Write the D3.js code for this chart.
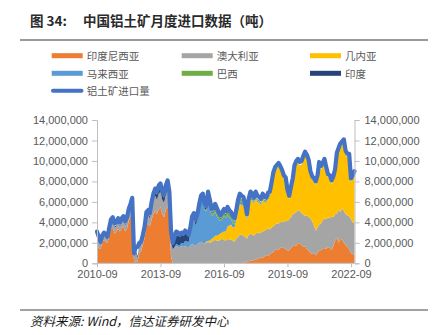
<!DOCTYPE html>
<html><head><meta charset="utf-8">
<script src="https://cdn.jsdelivr.net/npm/d3@7"></script>
<style>
html,body{margin:0;padding:0;background:#fff;}
svg{display:block;}
</style></head>
<body>
<svg id="c" width="439" height="335"></svg>
<script>
// Units: million tonnes, monthly, 2010-09 .. 2022-11
const UNIT = 1e6;
const startMonth = new Date(2010, 8, 1);
const endMonth = new Date(2022, 10, 1);
const tickLabels = ["2010-09","2013-09","2016-09","2019-09","2022-09"];
const yTicks = [0,2,4,6,8,10,12,14];

const seriesNames = ["印度尼西亚","澳大利亚","几内亚","马来西亚","巴西","印度"];
const totalName = "铝土矿进口量";

const total = [
3.1,2.6,2.1,2.7,3.0,2.8,2.6,3.5,4.3,4.5,
3.9,4.0,4.4,4.0,4.4,4.6,4.1,4.5,5.3,5.8,
6.4,1.0,1.6,1.6,2.0,2.1,2.8,3.6,5.0,5.2,
4.9,6.0,6.8,7.3,7.0,7.6,7.8,7.0,6.7,7.6,
8.1,7.0,3.2,2.0,2.6,3.1,3.0,2.8,3.0,2.9,
3.2,3.0,2.8,3.6,4.6,4.9,4.3,4.8,5.8,6.6,
6.8,5.8,5.6,7.0,6.2,5.3,5.4,5.8,5.4,5.0,
4.7,5.0,5.3,5.1,5.5,5.2,5.0,4.6,4.4,5.2,
6.2,6.8,6.6,6.5,5.8,4.8,6.3,7.0,6.8,6.4,
7.0,6.6,6.5,6.3,6.8,6.5,6.4,6.9,7.0,7.9,
8.9,9.4,9.6,9.8,9.5,9.1,8.6,8.4,7.2,6.6,
7.5,8.3,9.6,10.0,10.2,9.9,10.0,10.5,10.9,10.6,
10.1,9.0,8.5,8.3,8.0,8.6,9.9,9.5,9.8,10.2,
9.4,8.7,8.6,8.1,8.5,9.2,10.8,11.3,11.7,11.9,
12.1,11.0,10.7,10.7,8.3,8.6,9.0];

const indonesia = [
1.7,1.5,1.4,2.0,2.3,2.1,2.0,2.7,3.3,3.5,
2.9,3.1,3.4,3.1,3.4,3.6,3.1,3.4,4.1,4.6,
4.9,0.1,0.2,0.2,1.0,1.2,1.8,2.5,3.7,3.9,
3.6,4.3,4.8,5.1,4.8,5.3,5.5,4.8,4.5,5.2,
5.6,4.5,0.7,0,0,0,0,0,0,0,
0,0,0,0,0,0,0,0,0,0,
0,0,0,0,0,0,0,0,0,0,
0,0,0,0,0,0,0,0,0,0,
0,0,0,0.05,0.1,0.15,0.2,0.25,0.3,0.3,
0.4,0.4,0.5,0.6,0.5,0.7,0.8,0.7,0.9,1.0,
1.1,1.3,1.4,1.3,1.5,1.6,1.5,1.4,1.2,1.3,
1.5,1.7,1.8,1.7,2.0,1.9,1.8,1.6,1.7,1.4,
1.2,1.0,0.9,1.0,0.8,1.0,1.2,1.3,1.4,1.5,
1.4,1.6,1.5,1.3,1.7,2.2,2.5,2.0,2.4,2.3,
2.0,1.8,1.6,1.4,1.0,0.9,0.8];

const australia = [
0.9,0.7,0.4,0.4,0.4,0.4,0.3,0.5,0.6,0.6,
0.6,0.5,0.6,0.5,0.6,0.6,0.6,0.7,0.7,0.7,
0.8,0.5,0.9,0.3,0.6,0.6,0.6,0.7,0.8,0.8,
0.8,1.0,1.4,1.5,1.4,1.5,1.5,1.4,1.4,1.5,
1.6,1.5,1.4,1.3,1.5,1.7,1.6,1.6,1.7,1.6,
1.7,1.6,1.6,1.8,1.9,1.8,1.7,1.9,2.0,2.1,
2.0,1.9,2.0,2.1,2.0,2.1,2.2,2.3,2.2,2.2,
2.3,2.4,2.3,2.2,2.4,2.3,2.3,2.2,2.1,2.4,
2.6,2.8,2.8,2.65,2.5,2.25,2.6,2.65,2.5,2.4,
2.5,2.6,2.4,2.4,2.6,2.5,2.5,2.7,2.4,2.5,
2.5,2.5,2.5,2.6,2.5,2.5,2.5,2.8,2.9,3.0,
3.0,3.1,3.1,3.3,3.2,3.2,3.1,3.2,2.9,3.3,
3.3,3.4,3.2,2.7,2.4,2.5,2.6,2.6,2.8,2.9,
2.9,2.9,2.9,3.3,2.8,2.6,2.4,3.2,2.6,3.1,
3.1,3.0,3.1,3.2,3.3,3.1,3.1];

const guinea = [
0,0,0,0,0,0,0,0,0,0,
0,0,0,0,0,0,0,0,0,0,
0,0,0,0,0,0,0,0,0,0,
0,0,0,0,0,0,0,0,0,0,
0,0,0,0,0,0,0,0,0,0,
0,0,0,0,0,0,0,0,0,0,
0,0,0.1,0.1,0.2,0.3,0.3,0.4,0.5,0.6,
0.6,0.6,0.8,0.9,1.2,1.4,1.5,1.3,1.4,1.8,
2.5,3.0,2.9,3.0,2.4,1.8,2.7,3.3,3.3,3.1,
3.5,3.0,3.0,2.7,3.1,2.8,2.6,3.0,3.2,3.9,
4.9,5.2,5.3,5.5,5.1,4.6,4.2,3.8,2.7,1.9,
2.6,3.1,4.3,4.6,4.6,4.4,4.7,5.3,5.9,5.5,
5.2,4.2,4.0,4.2,4.4,4.7,5.7,5.2,5.2,5.4,
4.7,3.8,3.8,3.1,3.6,4.0,5.5,5.7,6.3,6.1,
6.6,5.8,5.6,5.7,3.6,4.2,4.7];

const malaysia = [
0,0,0,0,0,0,0,0,0,0,
0,0,0,0,0,0,0,0,0,0,
0,0,0,0,0,0,0,0,0,0,
0,0,0,0,0,0,0,0,0,0,
0,0,0,0.05,0.1,0.2,0.2,0.2,0.3,0.3,
0.5,0.5,0.5,1.2,2.1,2.5,2.0,2.3,3.2,3.8,
4.1,3.3,3.0,4.1,3.2,2.3,2.2,2.3,1.9,1.5,
1.2,1.3,1.5,1.3,1.1,0.8,0.5,0.4,0.3,0.4,
0.4,0.3,0.3,0.2,0.2,0.15,0.2,0.2,0.15,0.1,
0.1,0.1,0.1,0.1,0.1,0.05,0.05,0.05,0.05,0.05,
0,0,0,0,0,0,0,0,0,0,
0,0,0,0,0,0,0,0,0,0,
0,0,0,0,0,0,0,0,0,0,
0,0,0,0,0,0,0,0,0,0,
0,0,0,0,0,0,0];

const brazil = [
0,0,0,0,0,0,0,0,0,0,
0,0,0,0,0,0,0,0,0,0,
0,0,0,0,0,0,0,0,0,0,
0,0,0,0,0,0,0,0,0,0,
0,0,0,0,0,0,0,0,0,0,
0,0,0,0,0,0,0,0,0.05,0.1,
0.1,0.1,0.1,0.2,0.2,0.2,0.3,0.3,0.3,0.3,
0.2,0.3,0.3,0.3,0.3,0.3,0.3,0.3,0.2,0.3,
0.3,0.3,0.2,0.2,0.2,0.1,0.2,0.2,0.2,0.1,
0.1,0.1,0.1,0.1,0.1,0.1,0.1,0.1,0.1,0.1,
0.05,0.05,0.05,0.05,0.05,0.05,0.05,0.05,0.05,0.05,
0.05,0.05,0.05,0.05,0.05,0.05,0.05,0.05,0.05,0.05,
0.05,0.05,0.05,0.05,0.05,0.05,0.05,0.05,0.05,0.05,
0.05,0.05,0.05,0.05,0.05,0.05,0.05,0.05,0.05,0.05,
0.05,0.05,0.05,0.05,0.05,0.05,0.05];

const india = [
0.2,0.1,0.1,0.1,0.1,0.1,0.1,0.1,0.1,0.1,
0.1,0.1,0.1,0.1,0.1,0.1,0.1,0.1,0.2,0.2,
0.3,0.2,0.2,0.2,0.1,0.1,0.2,0.2,0.2,0.2,
0.2,0.3,0.4,0.5,0.5,0.5,0.5,0.5,0.5,0.6,
0.6,0.7,0.7,0.4,0.7,0.9,0.9,0.8,0.8,0.8,
0.8,0.7,0.5,0.4,0.4,0.3,0.3,0.3,0.3,0.3,
0.3,0.2,0.2,0.3,0.2,0.1,0.1,0.2,0.2,0.1,
0.1,0.1,0.1,0.1,0.1,0.1,0.05,0.05,0.05,0.05,
0.05,0.05,0.05,0.05,0.05,0.05,0.05,0.05,0.05,0.05,
0.05,0.05,0.05,0.05,0.05,0.05,0.05,0.05,0.05,0.05,
0,0,0,0,0,0,0,0,0,0,
0,0,0,0,0,0,0,0,0,0,
0,0,0,0,0,0,0,0,0,0,
0,0,0,0,0,0,0,0,0,0,
0,0,0,0,0,0,0];

const colors = ["#ED7D31","#A5A5A5","#FFC000","#5B9BD5","#70AD47","#264478"];
const lineColor = "#4472C4";

const months = d3.timeMonth.range(startMonth, d3.timeMonth.offset(endMonth, 1));
const seriesData = [indonesia, australia, guinea, malaysia, brazil, india];
const rows = months.map((d, i) => {
  const r = {date: d, total: total[i] * UNIT};
  seriesNames.forEach((n, k) => r[n] = seriesData[k][i] * UNIT);
  return r;
});

const svg = d3.select("#c");
const M = {left: 97, right: 354.5, top: 120, bottom: 263.3};

const x = d3.scaleTime().domain([startMonth, endMonth]).range([M.left, M.right]);
const y = d3.scaleLinear().domain([0, 14e6]).range([M.bottom, M.top]);

// Title
svg.append("text").attr("x", 30).attr("y", 26)
  .attr("font-family", "'Noto Sans CJK SC', 'Liberation Sans', sans-serif")
  .attr("font-size", 13.5).attr("font-weight", "bold").attr("fill", "#2a2a2a")
  .text("图 34:");
svg.append("text").attr("x", 83).attr("y", 26)
  .attr("font-family", "'Noto Sans CJK SC', sans-serif")
  .attr("font-size", 13.5).attr("font-weight", "bold").attr("fill", "#2a2a2a")
  .text("中国铝土矿月度进口数据（吨）");
svg.append("line").attr("x1", 20).attr("x2", 428).attr("y1", 40).attr("y2", 40)
  .attr("stroke", "#9a9a9a").attr("stroke-width", 2);

// Legend
const legendPos = [[51.7,55.7],[181.7,55.7],[310,55.7],[51.7,73.3],[181.7,73.3],[310,73.3]];
const lg = svg.append("g").attr("font-family", "'Noto Sans CJK SC', sans-serif")
  .attr("font-size", 10.5).attr("fill", "#595959");
seriesNames.forEach((n, k) => {
  const [lx, ly] = legendPos[k];
  lg.append("rect").attr("x", lx).attr("y", ly - 2.5).attr("width", 31).attr("height", 5).attr("fill", colors[k]);
  lg.append("text").attr("x", lx + 35).attr("y", ly).attr("dominant-baseline", "central").text(n);
});
lg.append("line").attr("x1", 53).attr("x2", 81.5).attr("y1", 90.7).attr("y2", 90.7)
  .attr("stroke", lineColor).attr("stroke-width", 4).attr("stroke-linecap", "round");
lg.append("text").attr("x", 86.7).attr("y", 90.7).attr("dominant-baseline", "central").text(totalName);

// Stacked areas
const stack = d3.stack().keys(seriesNames);
const layers = stack(rows);
const area = d3.area().x(d => x(d.data.date)).y0(d => y(d[0])).y1(d => y(d[1]));
svg.append("g").selectAll("path").data(layers).join("path")
  .attr("d", area).attr("fill", (d, i) => colors[i]);

// Total line
const line = d3.line().x(d => x(d.date)).y(d => y(d.total));
svg.append("path").datum(rows).attr("d", line).attr("fill", "none")
  .attr("stroke", lineColor).attr("stroke-width", 4.2).attr("stroke-linejoin", "round").attr("stroke-linecap", "round");

// Axes
const axisColor = "#bfbfbf";
const fmt = d3.format(",");
const axisFont = "'Liberation Sans', Arial, sans-serif";
const yl = svg.append("g").attr("transform", `translate(${M.left},0)`)
  .call(d3.axisLeft(y).tickValues(yTicks.map(v => v * UNIT)).tickFormat(fmt).tickSize(5).tickPadding(4));
const yr = svg.append("g").attr("transform", `translate(${M.right},0)`)
  .call(d3.axisRight(y).tickValues(yTicks.map(v => v * UNIT)).tickFormat(fmt).tickSize(5).tickPadding(5));
const tickDates = tickLabels.map(s => d3.timeParse("%Y-%m")(s));
const xa = svg.append("g").attr("transform", `translate(0,${M.bottom})`)
  .call(d3.axisBottom(x).tickValues(tickDates).tickFormat(d3.timeFormat("%Y-%m")).tickSize(4).tickPadding(3));
xa.select(".domain").attr("d", `M${M.left},0H${M.right}`);
[yl, yr, xa].forEach(g => {
  g.selectAll(".domain").attr("stroke", axisColor);
  g.selectAll(".tick line").attr("stroke", axisColor);
  g.selectAll("text").attr("font-family", axisFont).attr("font-size", 11).attr("fill", "#595959");
});

// Footer
svg.append("line").attr("x1", 20).attr("x2", 428).attr("y1", 310).attr("y2", 310)
  .attr("stroke", "#444").attr("stroke-width", 1);
svg.append("text").attr("x", 30).attr("y", 326)
  .attr("font-family", "'Noto Sans CJK SC', sans-serif").attr("font-style", "italic")
  .attr("font-size", 12.5).attr("fill", "#1a1a1a")
  .text("资料来源: Wind，信达证券研发中心");
</script>
</body></html>
